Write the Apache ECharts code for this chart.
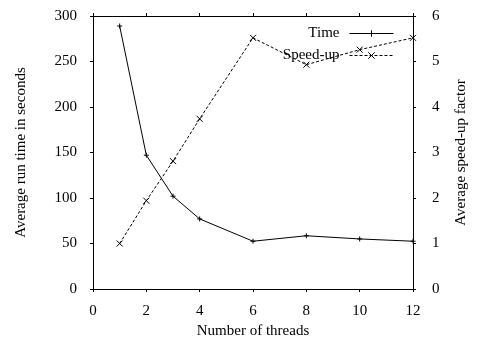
<!DOCTYPE html>
<html>
<head>
<meta charset="utf-8">
<script src="https://cdn.jsdelivr.net/npm/echarts@6/dist/echarts.min.js"></script>
<style>
  html, body { margin: 0; padding: 0; background: #fff; }
  #chart { width: 479px; height: 344px; }
</style>
</head>
<body>
<div id="chart"></div>
<script>
const threads = [1, 2, 3, 4, 6, 8, 10, 12];
const runTime = [289, 147, 102, 77, 52.5, 58.5, 55, 52.5];
const speedUp = [1.0, 1.94, 2.81, 3.74, 5.52, 4.93, 5.26, 5.52];

const FONT = 'Liberation Serif';
const plusPath = 'path://M0,-1L0,1M-1,0L1,0';
const crossPath = 'path://M-1,-1L1,1M-1,1L1,-1';

const chart = echarts.init(document.getElementById('chart'), null, { renderer: 'canvas' });

const axisCommon = {
  axisLine: { show: true, onZero: false, lineStyle: { color: '#000', width: 1 } },
  axisTick: { show: true, inside: false, length: 3, lineStyle: { color: '#000' } },
  splitLine: { show: false },
};

chart.setOption({
  animation: false,
  backgroundColor: '#fff',
  textStyle: { fontFamily: FONT, color: '#000' },
  grid: { left: 93, right: 66, top: 16, bottom: 55 },
  legend: {
    orient: 'vertical',
    right: 80,
    top: 21,
    align: 'right',
    itemWidth: 44,
    itemHeight: 8,
    itemGap: 7,
    lineStyle: { width: 1 },
    itemStyle: { borderWidth: 1 },
    textStyle: { fontFamily: FONT, fontSize: 15, color: '#000', padding: [0, 5, 0, 0] },
    data: ['Time', 'Speed-up'],
  },
  xAxis: [
    {
      type: 'value', min: 0, max: 12, interval: 2, position: 'bottom',
      name: 'Number of threads', nameLocation: 'middle', nameGap: 34,
      nameTextStyle: { fontFamily: FONT, fontSize: 15, color: '#000' },
      axisLabel: { fontFamily: FONT, fontSize: 15, color: '#000', margin: 15 },
      ...axisCommon,
    },
    {
      type: 'value', min: 0, max: 12, interval: 2, position: 'top',
      axisLabel: { show: false },
      ...axisCommon,
    },
  ],
  yAxis: [
    {
      type: 'value', min: 0, max: 300, interval: 50, position: 'left',
      name: 'Average run time in seconds', nameLocation: 'middle', nameGap: 64, nameRotate: 90,
      nameTextStyle: { fontFamily: FONT, fontSize: 15, color: '#000' },
      axisLabel: { fontFamily: FONT, fontSize: 15, color: '#000', margin: 16 },
      ...axisCommon,
    },
    {
      type: 'value', min: 0, max: 6, interval: 1, position: 'right',
      name: 'Average speed-up factor', nameLocation: 'middle', nameGap: 41, nameRotate: 90,
      nameTextStyle: { fontFamily: FONT, fontSize: 15, color: '#000' },
      axisLabel: { fontFamily: FONT, fontSize: 15, color: '#000', margin: 19 },
      ...axisCommon,
    },
  ],
  series: [
    {
      name: 'Time',
      type: 'line',
      xAxisIndex: 0,
      yAxisIndex: 0,
      data: threads.map((t, i) => [t, runTime[i]]),
      symbol: plusPath,
      symbolSize: 5,
      showAllSymbol: true,
      itemStyle: { color: '#000', borderColor: '#000', borderWidth: 1 },
      lineStyle: { color: '#000', width: 1 },
    },
    {
      name: 'Speed-up',
      type: 'line',
      xAxisIndex: 0,
      yAxisIndex: 1,
      data: threads.map((t, i) => [t, speedUp[i]]),
      symbol: crossPath,
      symbolSize: 6,
      showAllSymbol: true,
      itemStyle: { color: '#000', borderColor: '#000', borderWidth: 1 },
      lineStyle: { color: '#000', width: 1, type: [3, 2] },
    },
  ],
});
</script>
</body>
</html>
